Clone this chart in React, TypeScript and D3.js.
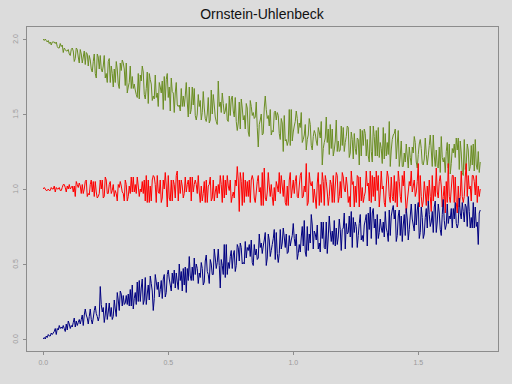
import React from "react";
import * as d3 from "d3";

const TITLE = "Ornstein-Uhlenbeck";
const DT = 0.004;
const X_TICKS = [0, 0.5, 1.0, 1.5];
const Y_TICKS = [0, 0.5, 1.0, 1.5, 2.0];

const greenSeries = [
2.00,1.99,2.00,1.99,1.98,1.99,1.97,1.98,1.96,1.98,
1.98,1.98,1.97,1.98,1.95,1.94,1.94,1.97,1.95,1.96,
1.91,1.94,1.93,1.92,1.92,1.93,1.90,1.89,1.93,1.94,
1.92,1.85,1.87,1.94,1.93,1.88,1.84,1.93,1.90,1.84,
1.88,1.92,1.83,1.91,1.90,1.82,1.89,1.86,1.80,1.78,
1.85,1.90,1.77,1.74,1.90,1.88,1.80,1.89,1.80,1.78,
1.82,1.89,1.74,1.77,1.71,1.85,1.87,1.71,1.82,1.77,
1.68,1.80,1.71,1.85,1.80,1.70,1.67,1.84,1.79,1.86,
1.84,1.80,1.69,1.84,1.64,1.68,1.71,1.82,1.67,1.75,
1.67,1.70,1.66,1.63,1.61,1.77,1.60,1.76,1.72,1.82,
1.78,1.63,1.60,1.67,1.78,1.57,1.77,1.73,1.70,1.59,
1.62,1.60,1.76,1.61,1.64,1.55,1.71,1.68,1.64,1.72,
1.53,1.75,1.59,1.73,1.77,1.61,1.68,1.52,1.74,1.65,
1.64,1.51,1.64,1.71,1.56,1.55,1.56,1.52,1.67,1.55,
1.62,1.55,1.62,1.71,1.58,1.48,1.68,1.50,1.53,1.68,
1.56,1.67,1.49,1.46,1.50,1.63,1.55,1.59,1.46,1.51,
1.65,1.54,1.47,1.45,1.50,1.61,1.44,1.46,1.66,1.50,
1.63,1.56,1.48,1.45,1.43,1.72,1.55,1.58,1.51,1.64,
1.57,1.50,1.52,1.57,1.46,1.45,1.62,1.49,1.60,1.62,
1.52,1.48,1.61,1.45,1.39,1.44,1.58,1.40,1.60,1.54,
1.46,1.49,1.40,1.57,1.54,1.38,1.35,1.59,1.55,1.49,
1.51,1.47,1.48,1.58,1.41,1.28,1.43,1.46,1.50,1.36,
1.37,1.54,1.62,1.53,1.47,1.49,1.42,1.53,1.36,1.39,
1.38,1.51,1.52,1.46,1.51,1.49,1.37,1.33,1.47,1.44,
1.25,1.49,1.32,1.33,1.29,1.32,1.53,1.29,1.53,1.32,
1.38,1.42,1.45,1.52,1.47,1.37,1.44,1.41,1.51,1.31,
1.33,1.36,1.43,1.26,1.33,1.36,1.47,1.43,1.29,1.26,
1.35,1.39,1.37,1.32,1.29,1.41,1.38,1.34,1.45,1.16,
1.27,1.31,1.34,1.48,1.31,1.40,1.23,1.43,1.27,1.40,
1.22,1.26,1.32,1.46,1.25,1.32,1.25,1.26,1.42,1.29,
1.41,1.25,1.31,1.35,1.42,1.41,1.21,1.24,1.38,1.33,
1.20,1.37,1.27,1.23,1.34,1.33,1.16,1.40,1.22,1.39,
1.29,1.40,1.37,1.22,1.33,1.22,1.18,1.42,1.25,1.18,
1.42,1.35,1.22,1.39,1.22,1.41,1.21,1.31,1.27,1.17,
1.41,1.20,1.37,1.22,1.31,1.23,1.45,1.15,1.26,1.33,
1.36,1.37,1.40,1.20,1.30,1.39,1.15,1.22,1.32,1.15,
1.15,1.24,1.18,1.30,1.22,1.14,1.28,1.21,1.16,1.28,
1.24,1.35,1.31,1.18,1.14,1.23,1.30,1.33,1.27,1.17,
1.16,1.20,1.34,1.23,1.16,1.22,1.29,1.36,1.26,1.15,
1.36,1.22,1.15,1.26,1.15,1.14,1.28,1.11,1.35,1.21,
1.18,1.21,1.11,1.25,1.31,1.14,1.30,1.10,1.17,1.27,
1.24,1.30,1.21,1.34,1.26,1.34,1.13,1.32,1.24,1.11,
1.09,1.33,1.13,1.17,1.30,1.26,1.12,1.15,1.29,1.16,
1.30,1.12,1.33,1.16,1.13,1.25,1.11,1.18
];

const redSeries = [
1.00,1.01,1.00,0.99,0.99,1.00,0.99,0.99,1.01,1.00,
1.00,1.02,0.98,1.01,1.00,1.00,1.01,0.99,0.99,1.01,
1.03,1.03,1.01,0.98,1.02,1.00,1.03,1.00,1.01,1.02,
0.98,1.02,0.95,1.05,1.03,1.01,1.04,1.02,0.97,1.03,
0.97,1.00,1.05,1.06,0.95,0.97,0.96,1.03,1.06,0.98,
1.05,0.95,1.05,0.98,0.94,0.95,0.97,1.06,1.00,1.06,
0.94,0.95,1.08,1.06,0.97,0.97,1.03,1.05,0.97,0.99,
1.03,0.95,0.99,0.97,0.92,1.03,1.01,1.05,1.02,0.98,
0.97,0.92,1.06,1.03,0.92,0.95,1.02,0.97,1.08,0.98,
1.08,0.98,1.03,0.97,1.08,1.02,0.95,1.00,0.98,1.05,
0.97,1.06,0.92,1.09,0.91,1.06,0.91,1.02,0.92,1.06,
1.09,1.08,1.03,0.91,1.09,0.98,0.97,1.06,0.91,0.94,
1.06,1.00,1.11,1.02,0.88,1.09,0.94,0.92,1.06,0.92,
1.06,1.03,0.94,1.09,1.12,0.92,1.06,0.97,1.06,1.02,
0.94,0.97,1.08,0.98,1.03,1.06,0.98,1.08,0.92,1.08,
0.98,1.03,1.06,1.03,0.97,1.09,0.98,0.91,1.02,0.92,
0.97,1.05,0.91,1.06,0.91,1.02,1.03,1.08,0.92,0.94,
1.06,0.92,0.98,1.02,0.94,1.03,0.97,1.09,1.03,0.91,
1.09,0.94,1.06,0.96,1.09,1.02,0.99,1.06,0.91,0.95,
0.98,0.94,1.06,1.02,1.15,1.06,0.85,1.11,1.05,0.89,
1.11,0.91,1.06,0.95,1.05,0.95,1.06,0.91,1.06,1.09,
1.06,0.94,0.91,0.98,1.05,1.09,0.98,1.01,0.89,1.11,
0.89,1.14,0.94,0.92,0.98,1.11,1.02,0.95,1.03,0.95,
0.89,1.01,0.92,1.05,1.02,0.98,1.11,0.97,1.09,1.02,
0.95,1.06,0.91,0.89,1.02,0.89,1.06,1.11,0.94,1.00,
1.06,0.97,1.05,1.09,0.95,0.94,1.02,1.09,1.11,0.94,
0.95,1.02,0.98,1.17,0.89,0.91,1.11,1.04,1.02,1.05,
0.91,1.00,0.94,0.87,1.04,1.11,0.89,1.03,0.91,1.11,
1.05,0.89,1.09,1.05,0.98,0.89,0.95,1.06,1.03,0.91,
1.09,0.91,1.02,1.11,1.09,0.91,0.95,1.05,0.94,1.11,
1.08,1.00,0.98,1.08,1.02,0.91,0.95,0.88,1.12,1.03,
1.05,0.88,1.02,0.91,1.09,1.08,0.88,1.08,0.92,1.01,
0.91,0.95,0.98,1.12,1.02,1.04,0.92,1.12,0.91,1.09,
0.95,1.08,0.92,1.12,0.99,1.09,0.88,0.98,1.12,1.00,
1.02,0.91,0.88,1.02,1.12,1.08,0.95,0.91,1.08,0.95,
0.92,1.09,0.91,1.05,0.88,1.12,1.05,0.95,0.91,1.09,
1.02,1.12,0.96,0.84,0.92,0.98,1.05,1.02,1.12,0.98,
1.02,1.06,0.95,0.98,1.05,1.17,0.88,1.09,0.95,0.88,
0.92,1.05,0.98,0.89,1.02,0.92,1.06,0.95,0.85,1.09,
0.92,1.02,0.95,1.14,0.98,0.94,1.05,1.09,1.02,0.88,
0.95,1.02,0.84,1.05,0.91,1.17,0.95,0.91,1.00,1.09,
1.09,0.91,1.08,0.91,0.84,1.02,0.88,0.95,1.12,0.95,
0.91,0.95,1.08,1.17,0.95,1.09,1.00,1.02,0.92,1.09,
1.09,1.05,0.96,1.09,0.91,1.02,0.95,1.00
];

const blueSeries = [
0.00,0.01,0.00,0.02,0.01,0.03,0.02,0.02,0.04,0.03,
0.04,0.05,0.07,0.03,0.07,0.06,0.09,0.07,0.08,0.07,
0.09,0.07,0.05,0.10,0.06,0.12,0.10,0.07,0.09,0.08,
0.11,0.14,0.08,0.12,0.09,0.11,0.13,0.10,0.13,0.16,
0.09,0.16,0.20,0.16,0.14,0.10,0.15,0.20,0.13,0.10,
0.14,0.19,0.22,0.17,0.15,0.12,0.15,0.35,0.23,0.18,
0.21,0.11,0.16,0.24,0.13,0.18,0.24,0.15,0.21,0.13,
0.15,0.26,0.20,0.15,0.31,0.26,0.19,0.32,0.30,0.22,
0.29,0.23,0.24,0.29,0.23,0.30,0.22,0.33,0.22,0.36,
0.20,0.27,0.31,0.23,0.38,0.25,0.39,0.25,0.34,0.40,
0.23,0.26,0.41,0.23,0.30,0.36,0.26,0.42,0.37,0.32,
0.19,0.27,0.43,0.38,0.33,0.38,0.28,0.33,0.39,0.27,
0.40,0.43,0.28,0.31,0.43,0.46,0.40,0.36,0.32,0.44,
0.37,0.46,0.34,0.44,0.38,0.33,0.50,0.39,0.45,0.32,
0.47,0.36,0.48,0.31,0.47,0.39,0.55,0.42,0.39,0.48,
0.39,0.54,0.43,0.50,0.47,0.37,0.44,0.41,0.51,0.47,
0.36,0.38,0.52,0.56,0.45,0.43,0.37,0.53,0.50,0.43,
0.43,0.60,0.54,0.47,0.51,0.60,0.49,0.34,0.53,0.49,
0.43,0.63,0.41,0.63,0.43,0.51,0.47,0.55,0.59,0.47,
0.56,0.59,0.45,0.49,0.63,0.61,0.52,0.64,0.61,0.50,
0.51,0.50,0.65,0.54,0.61,0.59,0.63,0.55,0.66,0.51,
0.49,0.63,0.56,0.60,0.53,0.54,0.70,0.61,0.64,0.57,
0.62,0.66,0.71,0.49,0.54,0.70,0.66,0.55,0.59,0.63,
0.67,0.73,0.53,0.71,0.57,0.51,0.57,0.73,0.60,0.64,
0.74,0.68,0.61,0.70,0.57,0.58,0.69,0.62,0.66,0.69,
0.77,0.67,0.62,0.70,0.53,0.57,0.63,0.58,0.68,0.75,
0.62,0.79,0.58,0.55,0.75,0.59,0.70,0.64,0.83,0.76,
0.60,0.72,0.70,0.66,0.76,0.60,0.64,0.58,0.78,0.67,
0.78,0.61,0.60,0.78,0.57,0.68,0.82,0.72,0.65,0.72,
0.63,0.79,0.62,0.74,0.63,0.68,0.80,0.73,0.59,0.73,
0.74,0.84,0.60,0.77,0.70,0.71,0.82,0.68,0.85,0.61,
0.81,0.71,0.78,0.75,0.61,0.69,0.77,0.83,0.66,0.69,
0.65,0.76,0.79,0.83,0.62,0.84,0.73,0.88,0.67,0.84,
0.87,0.74,0.80,0.63,0.83,0.67,0.71,0.80,0.74,0.71,
0.78,0.68,0.85,0.74,0.71,0.65,0.86,0.69,0.82,0.86,
0.89,0.80,0.86,0.65,0.69,0.82,0.86,0.69,0.82,0.65,
0.76,0.83,0.69,0.87,0.80,0.66,0.73,0.82,0.90,0.80,
0.76,0.72,0.90,0.76,0.86,0.91,0.67,0.71,0.88,0.81,
0.67,0.70,0.81,0.87,0.74,0.92,0.83,0.75,0.78,0.85,
0.71,0.88,0.92,0.71,0.78,0.90,0.84,0.73,0.69,0.83,
0.93,0.79,0.73,0.76,0.90,0.77,0.82,0.80,0.87,0.74,
0.87,0.80,0.91,0.77,0.74,0.77,0.94,0.84,0.80,0.91,
0.85,0.78,0.90,0.88,0.75,0.95,0.85,0.74,0.81,0.74,
0.91,0.74,0.88,0.75,0.78,0.63,0.84,0.86
];

const SERIES = [
  { name: "green", values: greenSeries, color: "#6b8e23" },
  { name: "red", values: redSeries, color: "#ff0000" },
  { name: "blue", values: blueSeries, color: "#000080" },
];

export default function App() {
  const W = 512, H = 384;
  const left = 26, right = 498, top = 26, bottom = 351;
  const x = d3.scaleLinear().domain([0, 1.5]).range([43.25, 418.25]);
  const y = d3.scaleLinear().domain([0, 2]).range([339, 39]);
  const line = d3.line<number>().x((_, i) => x(i * DT)).y((v) => y(v));
  const axisColor = "#8c8c8c";
  const labelColor = "#9a9a9a";
  return (
    <svg width={W} height={H} style={{ position: "absolute", left: 0, top: 0, display: "block" }}
      fontFamily="'Liberation Sans', Arial, sans-serif">
      <rect x={0} y={0} width={W} height={H} fill="#dcdcdc" />
      <text x={262} y={19} fontSize={14} textAnchor="middle" fill="#111">{TITLE}</text>
      {SERIES.map((s) => (
        <path key={s.name} d={line(s.values) || ""} fill="none" stroke={s.color} strokeWidth={1} />
      ))}
      <rect x={left + 0.5} y={top + 0.5} width={right - left} height={bottom - top} fill="none" stroke={axisColor} strokeWidth={1} />
      {X_TICKS.map((t) => (
        <g key={"x" + t}>
          <line x1={Math.round(x(t)) + 0.5} x2={Math.round(x(t)) + 0.5} y1={bottom + 0.5} y2={bottom + 4} stroke={axisColor} />
          <text x={x(t)} y={365} fontSize={7} textAnchor="middle" fill={labelColor}>{t.toFixed(1)}</text>
        </g>
      ))}
      {Y_TICKS.map((t) => (
        <g key={"y" + t}>
          <line x1={left + 0.5} x2={left - 3} y1={Math.round(y(t)) + 0.5} y2={Math.round(y(t)) + 0.5} stroke={axisColor} />
          <text transform={`translate(18,${y(t)}) rotate(-90)`} fontSize={7} textAnchor="middle" fill={labelColor}>{t.toFixed(1)}</text>
        </g>
      ))}
    </svg>
  );
}
